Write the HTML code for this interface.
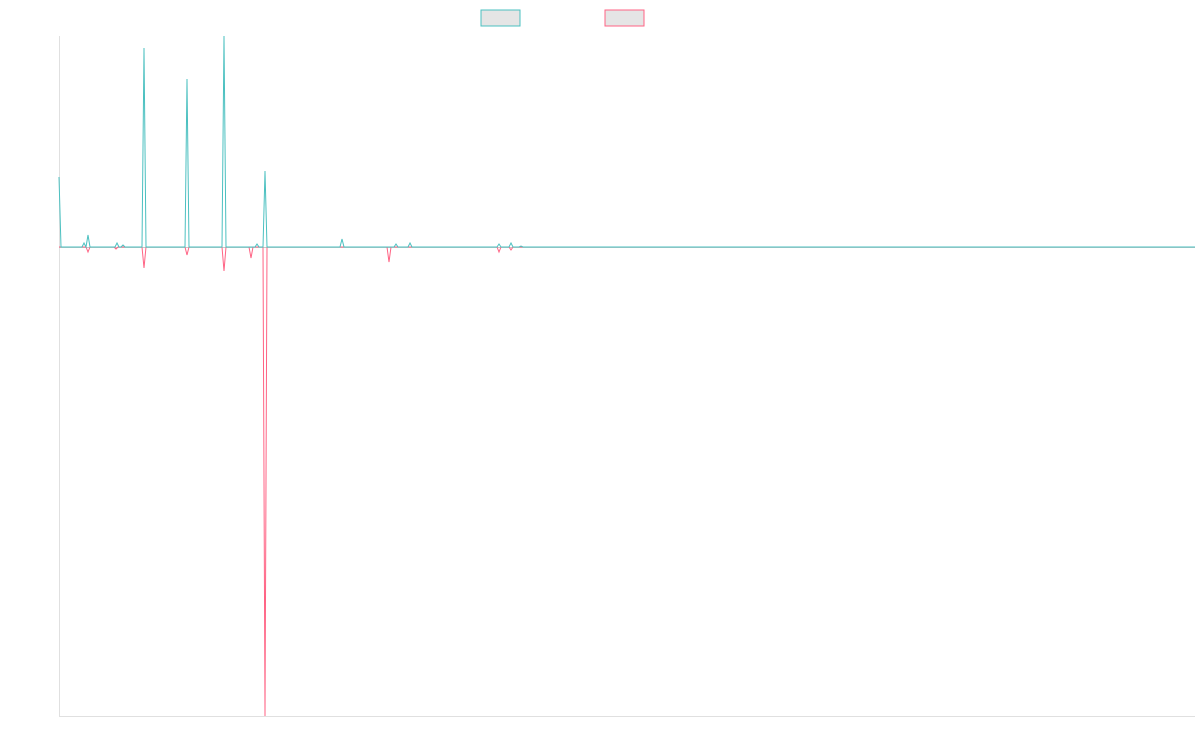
<!DOCTYPE html>
<html><head><style>body{margin:0;background:#fff}svg{display:block}</style></head><body>
<svg width="1200" height="750" xmlns="http://www.w3.org/2000/svg">
<rect x="481" y="10" width="39" height="16" fill="#e5e5e5" stroke="#4bc0c0" stroke-width="1"/>
<rect x="605" y="10" width="39" height="16" fill="#e5e5e5" stroke="#ff6384" stroke-width="1"/>
<line x1="59.5" y1="36" x2="59.5" y2="716" stroke="#e0e0e0"/>
<line x1="59" y1="716.5" x2="1195" y2="716.5" stroke="#e0e0e0"/>
<line x1="59" y1="247.5" x2="1195" y2="247.5" stroke="#c8c8c8"/>
<polyline fill="none" stroke="#ff6384" stroke-width="1" points="59,247 86,247 88,252 90,247 114,247 116,249 118,247 142,247 144,268 146,247 185,247 187,255 189,247 222,247 224,271 226,247 249,247 251,258 253,247 263,247 265,716 267,247 387,247 389,262 391,247 497,247 499,252 501,247 509,247 511,250 513,247 1195,247"/>
<polyline fill="none" stroke="#4bc0c0" stroke-width="1" points="59,177 61,247 82,247 84,243 86,247 88,235 90,247 115,247 117,243 119,247 121,247 123,245 125,247 142,247 144,48 146,247 185,247 187,79 189,247 222,247 224,36 226,247 255,247 257,244 259,247 263,247 265,171 267,247 340,247 342,239 344,247 394,247 396,244 398,247 408,247 410,243 412,247 497,247 499,244 501,247 509,247 511,243 513,247 519,247 521,246 523,247 1195,247"/>
</svg>
</body></html>
